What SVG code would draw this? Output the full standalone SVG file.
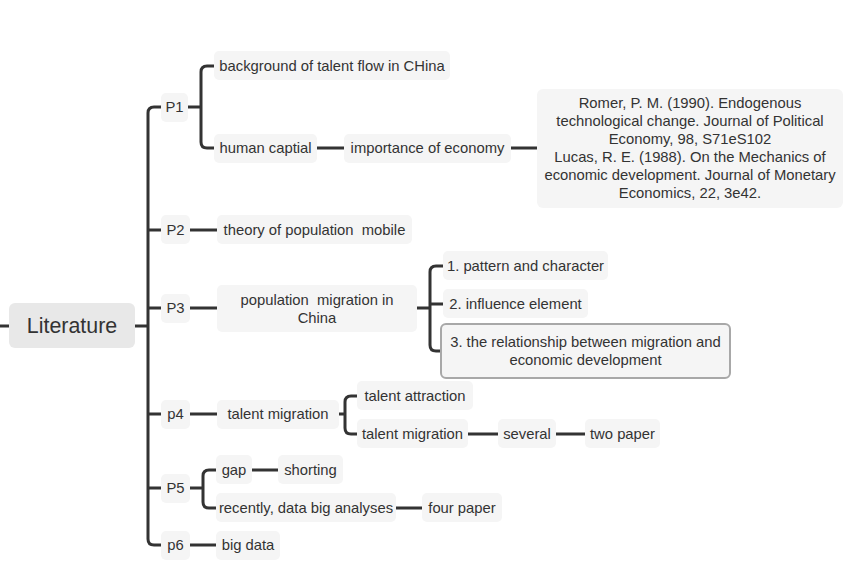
<svg xmlns="http://www.w3.org/2000/svg" width="855" height="573" viewBox="0 0 855 573">
<style>
.n{fill:#f5f5f5}
.t{font-family:"Liberation Sans",Arial,sans-serif;font-size:14.8px;fill:#333;text-anchor:middle}
.c{fill:none;stroke:#333;stroke-width:3}
</style>
<rect width="855" height="573" fill="#fff"/>
<g id="connectors" class="c">
<path d="M0,326 H9"/>
<path d="M135,326 H148"/>
<path d="M161,107 H154 Q148,107 148,113 V539 Q148,545 154,545 H161"/>
<path d="M148,230 H161 M148,308 H161 M148,414 H161 M148,488 H161"/>
<path d="M188,107 H201 M214,66 H207 Q201,66 201,72 V142 Q201,148 207,148 H214"/>
<path d="M317,148 H344 M511,148 H537"/>
<path d="M190,230 H217"/>
<path d="M190,308 H217 M417,308 H430 M443,266 H436 Q430,266 430,272 V345 Q430,351 436,351 H441 M430,304 H443"/>
<path d="M190,414 H217 M339,414 H345 M357,396 H351 Q345,396 345,402 V428 Q345,434 351,434 H357 M468,434 H498 M556,434 H585"/>
<path d="M190,488 H203 M216,470 H209 Q203,470 203,476 V502 Q203,508 209,508 H216 M252,470 H278 M396,508 H422"/>
<path d="M190,545 H216"/>
</g>
<g id="root"><rect x="9" y="303" width="126" height="45" rx="6" fill="#e8e8e8"/><text class="t" x="72" y="333" style="font-size:21.4px">Literature</text></g>
<g id="p1"><rect class="n" x="161" y="93" width="27" height="29" rx="5"/><text class="t" x="174.5" y="112">P1</text></g>
<g id="bg"><rect class="n" x="214" y="51" width="236" height="29" rx="5"/><text class="t" x="332" y="71">background of talent flow in CHina</text></g>
<g id="hc"><rect class="n" x="214" y="134" width="103" height="29" rx="5"/><text class="t" x="265.5" y="153">human captial</text></g>
<g id="ie"><rect class="n" x="344" y="134" width="167" height="29" rx="5"/><text class="t" x="427.5" y="153">importance of economy</text></g>
<g id="refs"><rect class="n" x="537" y="89" width="306" height="119" rx="6"/>
<text class="t" x="690"><tspan x="690" y="108">Romer, P. M. (1990). Endogenous</tspan><tspan x="690" y="126">technological change. Journal of Political</tspan><tspan x="690" y="144">Economy, 98, S71eS102</tspan><tspan x="690" y="162">Lucas, R. E. (1988). On the Mechanics of</tspan><tspan x="690" y="180">economic development. Journal of Monetary</tspan><tspan x="690" y="198">Economics, 22, 3e42.</tspan></text></g>
<g id="p2"><rect class="n" x="161" y="215" width="29" height="29" rx="5"/><text class="t" x="175.5" y="235">P2</text></g>
<g id="theory"><rect class="n" x="217" y="215" width="195" height="29" rx="5"/><text class="t" x="314.5" y="235" xml:space="preserve">theory of population  mobile</text></g>
<g id="p3"><rect class="n" x="161" y="294" width="29" height="29" rx="5"/><text class="t" x="175.5" y="313">P3</text></g>
<g id="pmc"><rect class="n" x="217" y="285" width="200" height="47" rx="5"/><text class="t" xml:space="preserve"><tspan x="317" y="305">population  migration in</tspan><tspan x="317" y="323">China</tspan></text></g>
<g id="c1"><rect class="n" x="443" y="251" width="165" height="29" rx="5"/><text class="t" x="525.5" y="271">1. pattern and character</text></g>
<g id="c2"><rect class="n" x="443" y="289" width="145" height="29" rx="5"/><text class="t" x="515.5" y="309">2. influence element</text></g>
<g id="c3"><rect x="441" y="324" width="289" height="54" rx="5" fill="#f5f5f5" stroke="#a8a8a8" stroke-width="2"/><text class="t"><tspan x="585.5" y="347">3. the relationship between migration and</tspan><tspan x="585.5" y="365">economic development</tspan></text></g>
<g id="p4"><rect class="n" x="161" y="400" width="29" height="29" rx="5"/><text class="t" x="175.5" y="419">p4</text></g>
<g id="tm"><rect class="n" x="217" y="400" width="122" height="29" rx="5"/><text class="t" x="278" y="419">talent migration</text></g>
<g id="ta"><rect class="n" x="357" y="381" width="116" height="29" rx="5"/><text class="t" x="415" y="401">talent attraction</text></g>
<g id="tm2"><rect class="n" x="357" y="419" width="111" height="29" rx="5"/><text class="t" x="412.5" y="439">talent migration</text></g>
<g id="sev"><rect class="n" x="498" y="419" width="58" height="29" rx="5"/><text class="t" x="527" y="439">several</text></g>
<g id="two"><rect class="n" x="585" y="419" width="75" height="29" rx="5"/><text class="t" x="622.5" y="439">two paper</text></g>
<g id="p5"><rect class="n" x="161" y="474" width="29" height="29" rx="5"/><text class="t" x="175.5" y="493">P5</text></g>
<g id="gap"><rect class="n" x="216" y="455" width="36" height="29" rx="5"/><text class="t" x="234" y="475">gap</text></g>
<g id="short"><rect class="n" x="278" y="455" width="65" height="29" rx="5"/><text class="t" x="310.5" y="475">shorting</text></g>
<g id="recent"><rect class="n" x="216" y="493" width="180" height="29" rx="5"/><text class="t" x="306" y="513">recently, data big analyses</text></g>
<g id="four"><rect class="n" x="422" y="493" width="80" height="29" rx="5"/><text class="t" x="462" y="513">four paper</text></g>
<g id="p6"><rect class="n" x="161" y="531" width="29" height="29" rx="5"/><text class="t" x="175.5" y="550">p6</text></g>
<g id="bd"><rect class="n" x="216" y="531" width="64" height="29" rx="5"/><text class="t" x="248" y="550">big data</text></g>
</svg>
